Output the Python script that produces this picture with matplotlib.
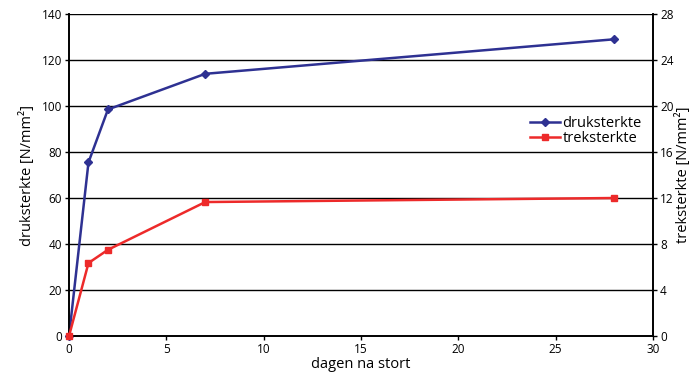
import matplotlib
matplotlib.use("Agg")
import matplotlib.pyplot as plt

plt.rcParams['font.family'] = ['Open Sans', 'DejaVu Sans']

days = [0, 1, 2, 7, 28]
druksterkte = [0, 75.5, 98.5, 114, 129]
treksterkte = [0, 6.35, 7.5, 11.65, 12.0]

left_ticks = [0, 20, 40, 60, 80, 100, 120, 140]
right_ticks = [0, 4, 8, 12, 16, 20, 24, 28]
x_ticks = [0, 5, 10, 15, 20, 25, 30]

blue = '#2e3192'
red = '#ed2a2a'

fig = plt.figure(figsize=(6.93, 3.78), dpi=100)
ax = fig.add_axes([0.0996, 0.111, 0.8427, 0.852])
ax2 = ax.twinx()

for y in left_ticks[1:]:
    ax.axhline(y, color='black', lw=1.0, zorder=1)

l1, = ax.plot(days, druksterkte, color=blue, lw=1.8, marker='D', ms=4,
              label='druksterkte', zorder=3, clip_on=False)
l2, = ax2.plot(days, treksterkte, color=red, lw=1.8, marker='s', ms=5,
               label='treksterkte', zorder=3, clip_on=False)

ax.set_xlim(0, 30)
ax.set_ylim(0, 140)
ax2.set_ylim(0, 28)
ax.set_xticks(x_ticks)
ax.set_yticks(left_ticks)
ax2.set_yticks(right_ticks)

for a in (ax, ax2):
    a.tick_params(direction='out', length=3, width=1, labelsize=8.5, pad=2)
    for s in a.spines.values():
        s.set_linewidth(1.2)
    a.spines['top'].set_visible(False)

ax.set_xlabel('dagen na stort', fontsize=10.5, labelpad=1)
ax.set_ylabel('druksterkte [N/mm²]', fontsize=10.5, labelpad=5)
ax2.set_ylabel('treksterkte [N/mm²]', fontsize=10.5, labelpad=1)

leg = ax.legend([l1, l2], ['druksterkte', 'treksterkte'], loc='upper left',
                bbox_to_anchor=(0.78, 0.70), frameon=False, fontsize=10.5,
                handlelength=2.0, handletextpad=0.2, borderaxespad=0,
                labelspacing=0.0)
leg.set_zorder(5)

fig.savefig('out.png', dpi=100)
